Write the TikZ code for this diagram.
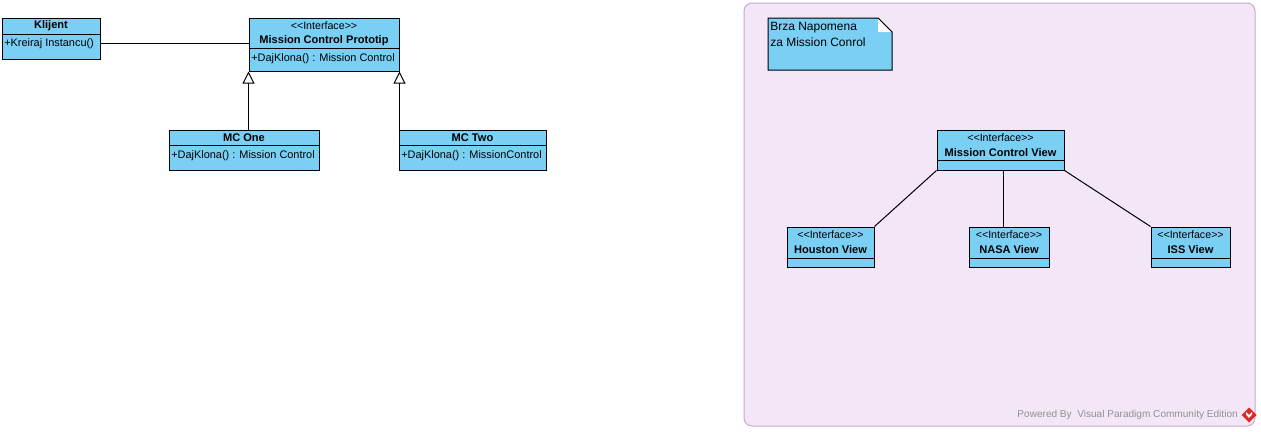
\documentclass[tikz,border=0pt]{standalone}
\usepackage{fontspec}
\setmainfont{Liberation Sans}
\usetikzlibrary{fit,arrows.meta,calc}
\definecolor{clsfill}{RGB}{122,207,245}
\definecolor{pkgfill}{RGB}{243,230,246}
\definecolor{pkgdraw}{RGB}{205,165,215}
\definecolor{wmgray}{RGB}{145,145,145}
\definecolor{vpred}{RGB}{215,45,40}
\newcommand{\stereotxt}{<\kern0pt<\kern0pt Interface\kern0pt>\kern0pt>}
\begin{document}
\begin{tikzpicture}[x=0.75pt,y=-0.75pt,
  cls/.style={draw=black, fill=clsfill, line width=0.75pt, inner sep=0pt},
  divline/.style={draw=black, line width=0.75pt},
  nm/.style={font=\fontsize{8.3}{9}\selectfont\bfseries, inner sep=0pt},
  stereo/.style={font=\fontsize{8}{9}\selectfont, inner sep=0pt},
  op/.style={font=\fontsize{8.2}{9}\selectfont, inner sep=0pt, anchor=west},
  conn/.style={draw=black, line width=0.75pt},
  gen/.style={conn, -{Triangle[open, fill=white, length=9pt, width=9pt]}},
  pkg/.style={draw=pkgdraw, fill=pkgfill, line width=0.75pt, rounded corners=6pt, inner sep=0pt},
  notetext/.style={font=\fontsize{9}{12}\selectfont, inner sep=0pt, align=left, anchor=north west},
  wm/.style={font=\fontsize{7.55}{8}\selectfont, text=wmgray, inner sep=0pt, anchor=east}
]
\fill[white] (0,0) rectangle (1261,432);
\useasboundingbox (0,0) rectangle (1261,432);

% Package frame
\node[pkg, fit={(744,3)(1255,426)}] (pkg) {};

% Klijent
\node[cls, fit={(2,18)(100,59)}] (klijent) {};
\draw[divline] (2,34) -- (100,34);
\node[nm] at (51,26) {Klijent};
\node[op] at (4,44) {+Kreiraj Instancu()};

% Mission Control Prototip
\node[cls, fit={(249,18)(399,71)}] (mcp) {};
\draw[divline] (249,48) -- (399,48);
\node[stereo] at (324,26) {\stereotxt};
\node[nm] at (324,41) {Mission Control Prototip};
\node[op] at (251,59) {+DajKlona() : Mission Control};

% MC One
\node[cls, fit={(169,130)(319,170)}] (mcone) {};
\draw[divline] (169,145) -- (319,145);
\node[nm] at (244,138) {MC One};
\node[op] at (171,156) {+DajKlona() : Mission Control};

% MC Two
\node[cls, fit={(399,130)(546,170)}] (mctwo) {};
\draw[divline] (399,145) -- (546,145);
\node[nm] at (472.5,138) {MC Two};
\node[op] at (401,156) {+DajKlona() : MissionControl};

% connectors left
\draw[conn] (klijent.east |- 0,43) -- (mcp.west |- 0,43);
\draw[gen] (mcone.north -| mcp.south west) -- (mcp.south west);
\draw[gen] (mctwo.north -| mcp.south east) -- (mcp.south east);

% Note
\node[inner sep=0pt, fit={(768,18)(892,70)}] (note) {};
\fill[clsfill, draw=black, line width=0.75pt] (768,18) -- (878,18) -- (892,32) -- (892,70) -- (768,70) -- cycle;
\fill[white] (878,18) -- (878,32) -- (892,32) -- cycle;
\draw[black, line width=0.75pt] (878,18) -- (892,32);
\node[notetext] at (770,22) {Brza Napomena\\za Mission Conrol};

% Mission Control View
\node[cls, fit={(937,130)(1064,170)}] (mcv) {};
\draw[divline] (937,160) -- (1064,160);
\node[stereo] at (1000.5,138) {\stereotxt};
\node[nm] at (1000.5,153) {Mission Control View};

% Houston View
\node[cls, fit={(787,227)(874,267)}] (houston) {};
\draw[divline] (787,258) -- (874,258);
\node[stereo] at (830.5,235) {\stereotxt};
\node[nm] at (830.5,250) {Houston View};

% NASA View
\node[cls, fit={(969,227)(1049,267)}] (nasa) {};
\draw[divline] (969,258) -- (1049,258);
\node[stereo] at (1009,235) {\stereotxt};
\node[nm] at (1009,250) {NASA View};

% ISS View
\node[cls, fit={(1151,227)(1230,267)}] (iss) {};
\draw[divline] (1151,258) -- (1230,258);
\node[stereo] at (1190.5,235) {\stereotxt};
\node[nm] at (1190.5,250) {ISS View};

% connectors right
\draw[conn] (mcv.south west) -- (houston.north east);
\draw[conn] ($(mcv.south)+(2.5,0)$) -- ($(nasa.north)+(-6,0)$);
\draw[conn] (mcv.south east) -- (iss.north west);

% Watermark
\node[wm] (wmtext) at (1238,415) {Powered By \ Visual Paradigm Community Edition};
\fill[vpred] (1249,407.5) -- (1256.5,415) -- (1249,422.5) -- (1241.5,415) -- cycle;
\fill[white] (1246,412) -- (1249,415) -- (1252,412) -- (1252,414.5) -- (1249,418) -- (1246,414.5) -- cycle;
\end{tikzpicture}
\end{document}
